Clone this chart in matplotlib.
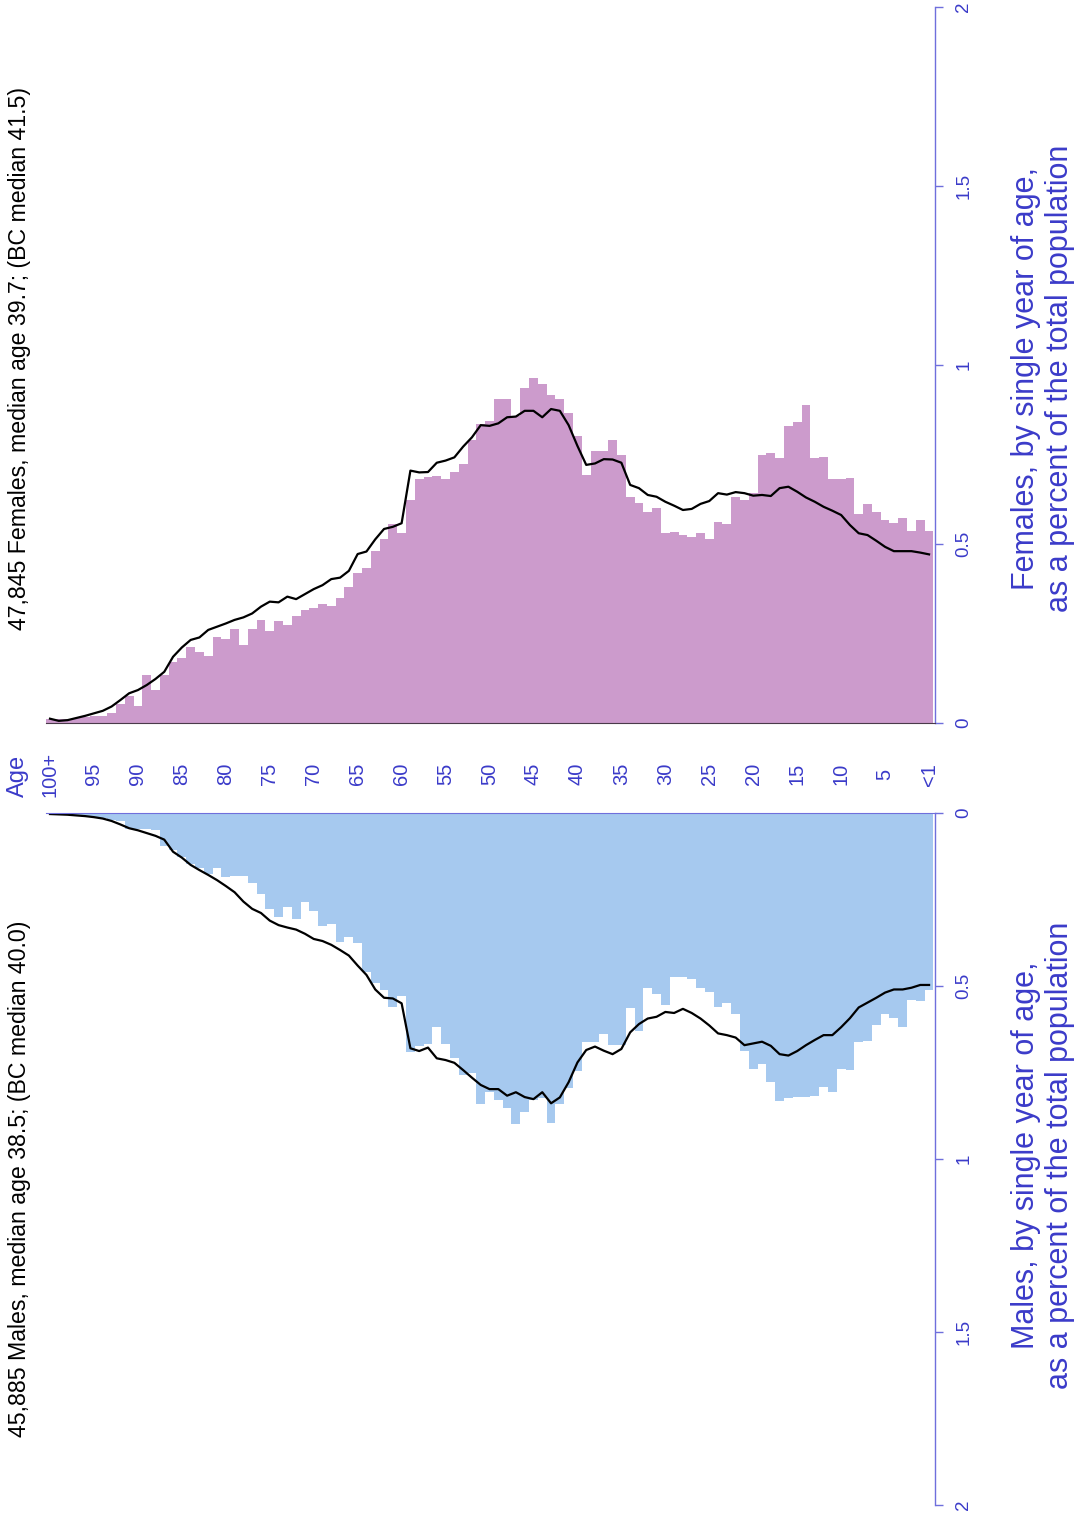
import numpy as np
import matplotlib
matplotlib.use("Agg")
import matplotlib.pyplot as plt

plt.rcParams['font.family'] = ['Liberation Sans', 'DejaVu Sans']

# single years of age, oldest (100+) on the left, <1 on the right
ages = list(range(100, -1, -1))
tick_ages = list(range(100, -1, -5))
tick_labels = ['100+'] + [str(a) for a in range(95, 0, -5)] + ['<1']
value_ticks = [0, 0.5, 1, 1.5, 2]
value_tick_labels = ['0', '0.5', '1', '1.5', '2']

# local area, % of total population (bars), age 100+ -> 0
female_local = [0.010, 0.010, 0.012, 0.015, 0.018, 0.020, 0.020, 0.027, 0.053, 0.075,
                0.048, 0.134, 0.092, 0.134, 0.171, 0.181, 0.213, 0.198, 0.187, 0.240,
                0.236, 0.263, 0.219, 0.263, 0.289, 0.258, 0.285, 0.274, 0.300, 0.316,
                0.320, 0.332, 0.327, 0.348, 0.381, 0.418, 0.434, 0.481, 0.514, 0.556,
                0.532, 0.623, 0.682, 0.686, 0.690, 0.681, 0.702, 0.723, 0.791, 0.835,
                0.844, 0.904, 0.904, 0.858, 0.937, 0.963, 0.947, 0.916, 0.904, 0.867,
                0.802, 0.693, 0.760, 0.760, 0.791, 0.749, 0.632, 0.615, 0.588, 0.600,
                0.530, 0.534, 0.525, 0.520, 0.530, 0.514, 0.561, 0.556, 0.632, 0.623,
                0.642, 0.749, 0.753, 0.739, 0.830, 0.840, 0.888, 0.739, 0.742, 0.681,
                0.681, 0.685, 0.584, 0.611, 0.588, 0.567, 0.558, 0.573, 0.536, 0.567,
                0.536]
male_local = [0.003, 0.003, 0.004, 0.006, 0.013, 0.013, 0.015, 0.020, 0.023, 0.046,
              0.046, 0.046, 0.050, 0.094, 0.107, 0.126, 0.148, 0.160, 0.176, 0.160,
              0.184, 0.181, 0.181, 0.203, 0.234, 0.277, 0.302, 0.273, 0.307, 0.256,
              0.283, 0.326, 0.321, 0.372, 0.357, 0.377, 0.459, 0.492, 0.512, 0.560,
              0.529, 0.692, 0.673, 0.667, 0.618, 0.667, 0.709, 0.757, 0.752, 0.842,
              0.806, 0.830, 0.852, 0.900, 0.863, 0.830, 0.825, 0.897, 0.842, 0.794,
              0.746, 0.663, 0.663, 0.640, 0.671, 0.671, 0.565, 0.629, 0.507, 0.523,
              0.555, 0.475, 0.475, 0.480, 0.507, 0.517, 0.560, 0.550, 0.582, 0.688,
              0.741, 0.725, 0.778, 0.831, 0.825, 0.820, 0.822, 0.818, 0.791, 0.805,
              0.741, 0.743, 0.661, 0.659, 0.613, 0.582, 0.592, 0.618, 0.540, 0.543,
              0.512]

# BC comparison lines, age 100+ -> 0
female_bc = [0.012, 0.006, 0.008, 0.014, 0.020, 0.027, 0.034, 0.046, 0.064, 0.083,
             0.092, 0.106, 0.123, 0.143, 0.185, 0.211, 0.232, 0.239, 0.260, 0.269,
             0.278, 0.288, 0.295, 0.306, 0.325, 0.339, 0.337, 0.353, 0.346, 0.360,
             0.374, 0.385, 0.402, 0.406, 0.425, 0.472, 0.479, 0.513, 0.542, 0.548,
             0.558, 0.705, 0.700, 0.701, 0.727, 0.733, 0.742, 0.772, 0.798, 0.832,
             0.830, 0.837, 0.854, 0.856, 0.872, 0.872, 0.854, 0.877, 0.872, 0.832,
             0.774, 0.721, 0.725, 0.737, 0.736, 0.727, 0.665, 0.656, 0.637, 0.632,
             0.618, 0.607, 0.595, 0.598, 0.612, 0.620, 0.642, 0.638, 0.645, 0.642,
             0.635, 0.637, 0.634, 0.656, 0.660, 0.646, 0.630, 0.618, 0.604, 0.593,
             0.581, 0.553, 0.530, 0.525, 0.509, 0.492, 0.480, 0.480, 0.480, 0.476,
             0.471]
male_bc = [0.003, 0.004, 0.005, 0.007, 0.009, 0.012, 0.016, 0.023, 0.033, 0.044,
           0.050, 0.058, 0.066, 0.077, 0.112, 0.129, 0.150, 0.165, 0.179, 0.194,
           0.211, 0.229, 0.256, 0.277, 0.289, 0.311, 0.324, 0.331, 0.337, 0.349,
           0.364, 0.370, 0.381, 0.396, 0.412, 0.441, 0.468, 0.510, 0.534, 0.536,
           0.550, 0.680, 0.688, 0.678, 0.709, 0.714, 0.722, 0.743, 0.765, 0.786,
           0.798, 0.798, 0.817, 0.807, 0.821, 0.827, 0.807, 0.839, 0.822, 0.778,
           0.721, 0.685, 0.675, 0.687, 0.697, 0.682, 0.634, 0.610, 0.594, 0.589,
           0.575, 0.578, 0.566, 0.578, 0.594, 0.614, 0.637, 0.642, 0.649, 0.671,
           0.666, 0.661, 0.673, 0.697, 0.701, 0.688, 0.671, 0.656, 0.642, 0.642,
           0.619, 0.593, 0.562, 0.548, 0.534, 0.519, 0.510, 0.510, 0.505, 0.497,
           0.497]

female_title = "47,845 Females, median age 39.7; (BC median 41.5)"
male_title = "45,885 Males, median age 38.5; (BC median 40.0)"
female_axis_label = "Females, by single year of age,\nas a percent of the total population"
male_axis_label = "Males, by single year of age,\nas a percent of the total population"

W, H = 1078, 1532
TEXT_BLUE = '#3b3bc9'
SPINE_BLUE = '#6f6fdc'
FEMALE_COL = '#cc9bcc'
MALE_COL = '#a6c9ef'


def px_axes(fig, left, top, right, bottom):
    return fig.add_axes([left / W, 1 - bottom / H, (right - left) / W, (bottom - top) / H])


def style_value_axis(ax):
    for side in ['left', 'top', 'bottom']:
        ax.spines[side].set_visible(False)
    ax.spines['right'].set_color(SPINE_BLUE)
    ax.spines['right'].set_linewidth(1.0)
    ax.yaxis.tick_right()
    ax.set_yticks(value_ticks)
    ax.set_yticklabels(value_tick_labels)
    ax.tick_params(axis='y', direction='out', length=5.5, width=1, color=SPINE_BLUE,
                   labelcolor=TEXT_BLUE, labelsize=13.5, pad=9, labelrotation=90)
    for lbl in ax.get_yticklabels():
        lbl.set_va('center')
    ax.set_xlim(-0.5, 100.7)


fig = plt.figure(figsize=(W / 100, H / 100), dpi=100)
pos = np.arange(len(ages))

# females, growing upward
ax_f = px_axes(fig, 45.6, 7, 935.2, 723)
ax_f.bar(pos, female_local, width=1.0, color=FEMALE_COL, linewidth=0)
ax_f.plot(pos, female_bc, color='black', lw=1.6)
ax_f.set_ylim(0, 2)
style_value_axis(ax_f)
ax_f.spines['bottom'].set_visible(True)
ax_f.spines['bottom'].set_color('#4a3a4a')
ax_f.set_xticks([])

# males, growing downward
ax_m = px_axes(fig, 45.6, 813, 935.2, 1505)
ax_m.bar(pos, male_local, width=1.0, color=MALE_COL, linewidth=0)
ax_m.plot(pos, male_bc, color='black', lw=1.6)
ax_m.set_ylim(2, 0)
style_value_axis(ax_m)
ax_m.spines['top'].set_visible(True)
ax_m.spines['top'].set_color(SPINE_BLUE)
ax_m.xaxis.set_ticks_position('top')
ax_m.set_xticks([ages.index(a) for a in tick_ages])
ax_m.set_xticklabels(tick_labels, rotation=90)
ax_m.tick_params(axis='x', length=0, pad=28, labelsize=14.5, labelcolor=TEXT_BLUE)
for lbl in ax_m.get_xticklabels():
    lbl.set_va('center')

fig.text(18 / W, 1 - 797 / H, "Age", rotation=90, ha='center', va='bottom',
         fontsize=17, color=TEXT_BLUE)
fig.text(20 / W, 1 - 630 / H, female_title, rotation=90, ha='center', va='bottom',
         fontsize=16.7, color='black')
fig.text(20 / W, 1 - 1437 / H, male_title, rotation=90, ha='center', va='bottom',
         fontsize=16.7, color='black')
fig.text(1043 / W, 1 - 378 / H, female_axis_label, rotation=90, ha='center', va='center',
         multialignment='center', fontsize=22, color=TEXT_BLUE, linespacing=1.15)
fig.text(1043 / W, 1 - 1155 / H, male_axis_label, rotation=90, ha='center', va='center',
         multialignment='center', fontsize=22, color=TEXT_BLUE, linespacing=1.15)

fig.savefig('out.png', dpi=100)
